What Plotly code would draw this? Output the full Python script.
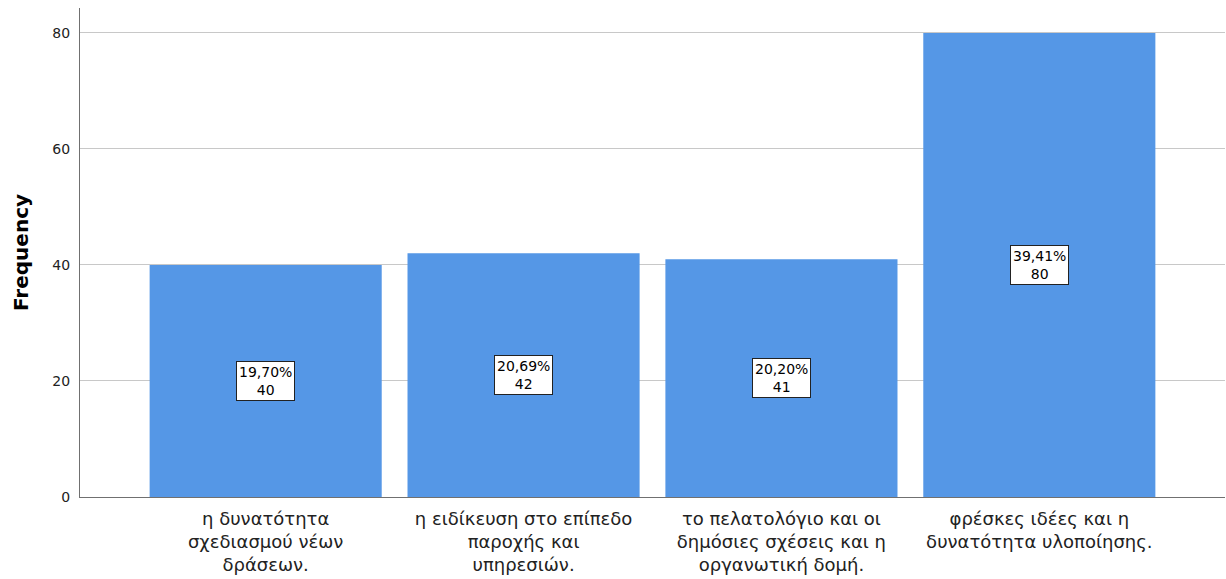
import plotly.graph_objects as go

# Response categories and counts
categories = [
    "η δυνατότητα<br>σχεδιασμού νέων<br>δράσεων.",
    "η ειδίκευση στο επίπεδο<br>παροχής και<br>υπηρεσιών.",
    "το πελατολόγιο και οι<br>δημόσιες σχέσεις και η<br>οργανωτική δομή.",
    "φρέσκες ιδέες και η<br>δυνατότητα υλοποίησης.",
]
counts = [40, 42, 41, 80]
percents = ["19,70%", "20,69%", "20,20%", "39,41%"]

bar_color = "#5597E6"
font_family = "DejaVu Sans, Verdana, sans-serif"

fig = go.Figure()
fig.add_trace(go.Bar(
    x=list(range(len(categories))),
    y=counts,
    marker=dict(color=bar_color, line=dict(width=0)),
    width=0.9,
    hoverinfo="skip",
))

# Value boxes at mid-height of each bar
for i, (c, p) in enumerate(zip(counts, percents)):
    fig.add_annotation(
        x=i, y=c / 2,
        text=f"{p}<br>{c}",
        showarrow=False,
        font=dict(family=font_family, size=14, color="black"),
        bgcolor="white",
        bordercolor="#222222",
        borderwidth=1,
        borderpad=2,
        align="center",
    )

fig.update_layout(
    width=1226, height=579,
    margin=dict(l=80, r=1, t=8, b=82),
    paper_bgcolor="white",
    plot_bgcolor="white",
    showlegend=False,
    font=dict(family=font_family, color="#222222"),
    xaxis=dict(
        range=[-0.72, 3.72],
        tickmode="array",
        tickvals=list(range(len(categories))),
        ticktext=categories,
        tickfont=dict(size=18, color="#222222"),
        ticklabelstandoff=5,
        automargin=False,
        showgrid=False,
        showline=True, linecolor="#707070", linewidth=1,
        ticks="", zeroline=False,
    ),
    yaxis=dict(
        range=[0, 84.3],
        tickvals=[0, 20, 40, 60, 80],
        tickfont=dict(size=14, color="#222222"),
        ticklabelstandoff=6,
        automargin=False,
        showgrid=True, gridcolor="#C8C8C8", gridwidth=1,
        showline=True, linecolor="#707070", linewidth=1,
        ticks="", zeroline=False,
        title=dict(text="<b>Frequency</b>", font=dict(size=20, color="black"), standoff=18),
    ),
)

fig.write_html("out.html")
